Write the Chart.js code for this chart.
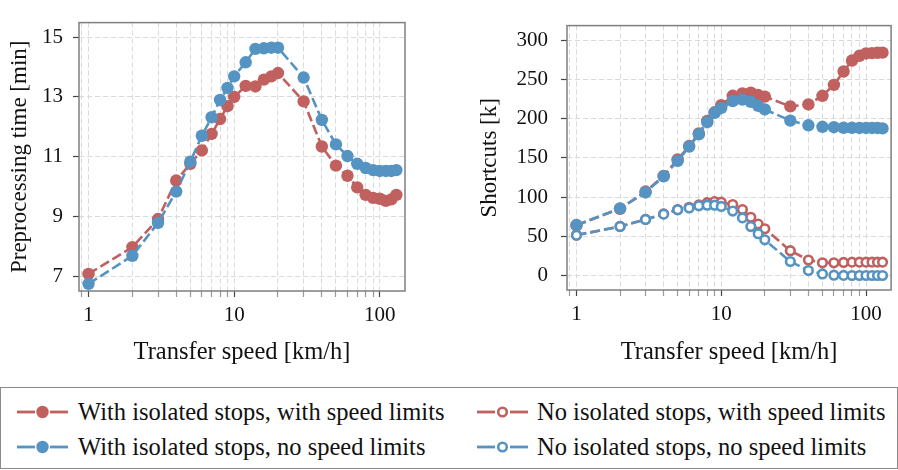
<!DOCTYPE html>
<html><head><meta charset="utf-8">
<script src="https://cdn.jsdelivr.net/npm/chart.js@4.4.1/dist/chart.umd.min.js"></script>
<style>
html,body{margin:0;padding:0;background:#fff;width:898px;height:470px;overflow:hidden;font-family:"Liberation Serif",serif;}
canvas{position:absolute;top:0;}
#c1{left:0;}
#c2{left:440px;}
#legendBox{position:absolute;left:0;top:387px;width:898px;height:82px;box-sizing:border-box;border:1.5px solid #8a8a8a;}
.lg{position:absolute;height:30px;line-height:30px;font-size:24.5px;color:#111;white-space:nowrap;}
.lg svg{position:absolute;top:7px;}
</style></head><body>
<canvas id="c1" width="420" height="380"></canvas>
<canvas id="c2" width="458" height="380"></canvas>
<div id="legendBox"></div>
<script>
const speeds = [1,2,3,4,5,6,7,8,9,10,12,14,16,18,20,30,40,50,60,70,80,90,100,110,120,130];
const timeWithIsoWithLimits = [7.07,7.97,8.91,10.2,10.76,11.21,11.76,12.26,12.69,13.0,13.37,13.35,13.58,13.69,13.8,12.85,11.34,10.7,10.36,9.97,9.72,9.62,9.59,9.52,9.57,9.72];
const timeWithIsoNoLimits = [6.74,7.68,8.78,9.83,10.83,11.7,12.32,12.9,13.3,13.69,14.16,14.61,14.63,14.65,14.65,13.65,12.23,11.41,11.02,10.76,10.62,10.55,10.52,10.52,10.52,10.55];
const scWithIsoWithLimits = [64,85,107,127,148,165,181,197,208,217,229,232,233,230,228,215.5,218,229,243,260,274,280,283,283.4,283.8,284];
const scWithIsoNoLimits = [64.3,85.6,105.8,126.3,146,164.2,180,195.4,207.2,213.5,222.2,224.2,221.4,216.3,211.6,197.4,191.4,189.5,189,188.3,188.3,188,188,188,188,187.5];
const scNoIsoWithLimits = [51.5,62.5,71.5,78.5,84,87,90,92.8,94.3,93.5,90.4,84,74.2,65.5,59.6,31.6,19.7,16.2,16.2,16.6,17,17,17,17,17,17];
const scNoIsoNoLimits = [51.3,62.4,71.4,78.2,83.7,86,88.8,89.6,89.6,88,82.1,73.4,62.4,53.3,45.4,17.8,6.3,2,0.4,0.1,0,0,0,0,0,0];
const xTickLabels = [1,10,100];
const timeTicks = [7,9,11,13,15];
const shortcutTicks = [0,50,100,150,200,250,300];
const seriesLabels = ['With isolated stops, with speed limits','No isolated stops, with speed limits','With isolated stops, no speed limits','No isolated stops, no speed limits'];

const RED = '#c0605f', BLUE = '#5594c2';
const FONT = '"Liberation Serif", serif';
const TXT = '#111';

function ds(label, data, color, filled, order) {
  return {
    label, order,
    data: speeds.map((x, i) => ({x, y: data[i]})),
    borderColor: color, backgroundColor: color,
    borderWidth: 2.6, borderDash: [10, 4],
    pointRadius: filled ? 6.2 : 4.3,
    pointBorderWidth: filled ? 0 : 2.6,
    pointBackgroundColor: filled ? color : '#ffffff',
    pointBorderColor: color,
    pointHoverRadius: filled ? 6.2 : 4.3,
    tension: 0
  };
}

const boxPlugin = {
  id: 'box',
  beforeDatasetsDraw(chart) {
    const {ctx, chartArea: a} = chart;
    ctx.save();
    ctx.strokeStyle = '#7f7f7f';
    ctx.lineWidth = 1.5;
    ctx.strokeRect(a.left, a.top, a.right - a.left, a.bottom - a.top);
    ctx.restore();
  }
};

function xScale(xHeight) {
  return {
    type: 'logarithmic', min: 0.86, max: 149,
    afterBuildTicks(scale) {
      const vals = [];
      for (const dec of [0.1, 1, 10, 100]) {
        for (let k = 1; k <= 9; k++) {
          const v = Math.round(dec * k * 1000) / 1000;
          if (v >= scale.min && v <= 100) vals.push(v);
        }
      }
      scale.ticks = vals.map(v => ({value: v, major: xTickLabels.includes(v)}));
    },
    afterFit(scale) { scale.height = xHeight; },
    ticks: {
      autoSkip: false, maxRotation: 0, minRotation: 0, padding: 6,
      color: TXT, font: {family: FONT, size: 21},
      callback: (v) => xTickLabels.includes(v) ? String(v) : ''
    },
    grid: {
      color: '#d9d9d9', lineWidth: 1,
      drawTicks: true, tickLength: 6, tickBorderDash: [],
      tickWidth: 1.2,
      tickColor: (c) => (c.tick && xTickLabels.includes(c.tick.value)) ? '#444' : '#999'
    },
    border: {display: false, dash: [5, 3]},
    title: {display: true, text: 'Transfer speed [km/h]', color: TXT, font: {family: FONT, size: 24.5}, padding: {top: 0, bottom: 13}}
  };
}

function yScale(min, max, tickVals, width, title, titlePad, labelPad) {
  return {
    type: 'linear', min, max,
    afterBuildTicks(scale) { scale.ticks = tickVals.map(v => ({value: v})); },
    afterFit(scale) { scale.width = width; },
    ticks: {color: TXT, font: {family: FONT, size: 21}, padding: labelPad},
    grid: {
      color: '#d9d9d9', lineWidth: 1,
      drawTicks: true, tickLength: 6, tickBorderDash: [], tickWidth: 1.2, tickColor: '#444'
    },
    border: {display: false, dash: [5, 3]},
    title: {display: true, text: title, color: TXT, font: {family: FONT, size: 23}, padding: {top: titlePad, bottom: 0}}
  };
}

const common = {
  responsive: false, animation: false, devicePixelRatio: 1,
  plugins: {legend: {display: false}, tooltip: {enabled: false}},
  events: []
};

new Chart(document.getElementById('c1'), {
  type: 'line',
  data: {datasets: [
    ds(seriesLabels[0], timeWithIsoWithLimits, RED, true, 2),
    ds(seriesLabels[2], timeWithIsoNoLimits, BLUE, true, 1)
  ]},
  options: Object.assign({}, common, {
    layout: {padding: {top: 5, right: 15, left: 0, bottom: 0}},
    scales: {
      x: xScale(380 - 291),
      y: yScale(6.5, 15.49, timeTicks, 79, 'Preprocessing time [min]', 6, 10)
    }
  }),
  plugins: [boxPlugin]
});

new Chart(document.getElementById('c2'), {
  type: 'line',
  data: {datasets: [
    ds(seriesLabels[0], scWithIsoWithLimits, RED, true, 4),
    ds(seriesLabels[2], scWithIsoNoLimits, BLUE, true, 3),
    ds(seriesLabels[1], scNoIsoWithLimits, RED, false, 2),
    ds(seriesLabels[3], scNoIsoNoLimits, BLUE, false, 1)
  ]},
  options: Object.assign({}, common, {
    layout: {padding: {top: 5, right: 6, left: 0, bottom: 0}},
    scales: {
      x: xScale(380 - 290),
      y: yScale(-18.5, 318.5, shortcutTicks, 127, 'Shortcuts [k]', 36, 13)
    }
  }),
  plugins: [boxPlugin]
});

// Shared legend (HTML), built from the series labels
const legendItems = [
  {label: seriesLabels[0], color: RED, filled: true, x: 17, y: 397},
  {label: seriesLabels[1], color: RED, filled: false, x: 477, y: 397},
  {label: seriesLabels[2], color: BLUE, filled: true, x: 17, y: 432},
  {label: seriesLabels[3], color: BLUE, filled: false, x: 477, y: 432}
];
for (const it of legendItems) {
  const d = document.createElement('div');
  d.className = 'lg';
  d.style.left = it.x + 'px';
  d.style.top = it.y + 'px';
  const circ = it.filled
    ? `<circle cx="25.5" cy="8" r="6.2" fill="${it.color}"/>`
    : `<circle cx="25.5" cy="8" r="4.3" fill="#fff" stroke="${it.color}" stroke-width="2.6"/>`;
  d.innerHTML = `<svg width="52" height="16" style="left:0"><line x1="0" y1="8" x2="18" y2="8" stroke="${it.color}" stroke-width="2.8"/><line x1="33" y1="8" x2="51" y2="8" stroke="${it.color}" stroke-width="2.8"/>${circ}</svg><span style="position:absolute;left:${it.filled ? 61 : 60}px">${it.label}</span>`;
  document.body.appendChild(d);
}
</script>
</body></html>
